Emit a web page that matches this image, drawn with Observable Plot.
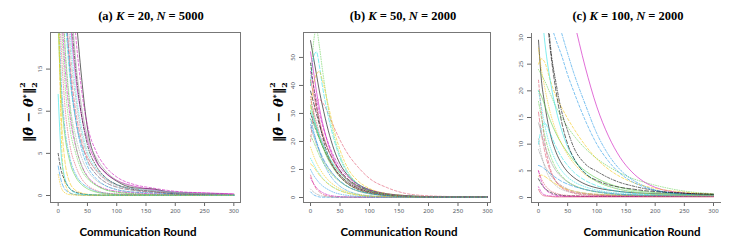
<!DOCTYPE html>
<html>
<head>
<meta charset="utf-8">
<script src="https://cdn.jsdelivr.net/npm/d3@7"></script>
<script src="https://cdn.jsdelivr.net/npm/@observablehq/plot@0.6"></script>
<style>
  html, body { margin: 0; padding: 0; background: #fff; }
  #root { position: relative; width: 747px; height: 241px; overflow: hidden; background: #fff; }
  .lbl { position: absolute; transform: translate(-50%, -50%); white-space: nowrap; color: #000; }
  .title { font-family: "Liberation Serif", serif; font-weight: bold; font-size: 12.5px; }
  .title i { font-style: italic; }
  .xlab { font-family: "Lato", sans-serif; font-weight: bold; font-size: 11.5px; }
  .ylab { font-family: "DejaVu Serif", serif; font-weight: bold; font-size: 13px; transform: translate(-50%, -50%) rotate(-90deg); }
  .ylab i { font-style: italic; }
  .panel { position: absolute; }
</style>
</head>
<body>
<div id="root"></div>
<script>
// ---------------- data ----------------
const titles = ["(a) ", "(b) ", "(c) "];
const kValues = [20, 50, 100];
const nValues = [5000, 2000, 2000];
const xLabel = "Communication Round";
const xTicks = [0, 50, 100, 150, 200, 250, 300];
const yTicksA = [0, 5, 10, 15];
const yTicksB = [0, 10, 20, 30, 40, 50];
const yTicksC = [0, 5, 10, 15, 20, 25, 30];

const palette = ["#000000", "#DF536B", "#61D04F", "#2297E6", "#28E2E5", "#CD0BBC", "#F5C710", "#9E9E9E"];

// panel (a): K = 20, N = 5000
const roundsA = [0, 5, 10, 20, 30, 40, 50, 65, 80, 100, 130, 160, 200, 250, 300];
const seriesA = [
  [90, 70, 55, 33, 22, 14, 8, 4.2, 2.8, 1.7, 0.9, 0.8, 0.3, 0.2, 0.1],
  [60, 40, 28, 15, 9, 6, 4.5, 3, 2, 1.3, 0.8, 0.5, 0.2, 0.1, 0.05],
  [35, 22, 15, 8, 5, 3, 2, 1.2, 0.7, 0.4, 0.2, 0.1, 0.05, 0.03, 0.02],
  [25, 14, 9, 4.5, 2.5, 1.5, 1, 0.5, 0.3, 0.15, 0.1, 0.05, 0.03, 0.02, 0.02],
  [45, 32, 24, 14, 9, 6, 4, 2.5, 1.6, 1, 0.6, 0.4, 0.3, 0.2, 0.1],
  [70, 50, 38, 22, 14, 9.5, 6.5, 4, 2.7, 1.8, 1.1, 0.7, 0.4, 0.3, 0.2],
  [30, 8, 2, 0.3, 0.1, 0.05, 0.03, 0.02, 0.02, 0.01, 0.01, 0.01, 0.01, 0.01, 0.01],
  [40, 28, 20, 11, 7, 4.5, 3, 1.8, 1.2, 0.7, 0.4, 0.3, 0.2, 0.1, 0.1],
  [80, 55, 40, 24, 15, 9.5, 6, 3.5, 2.2, 1.3, 0.7, 0.5, 0.2, 0.1, 0.1],
  [50, 35, 26, 16, 10, 6.5, 4.2, 2.5, 1.6, 1, 0.6, 0.4, 0.3, 0.2, 0.1],
  [20, 12, 8, 4, 2.2, 1.3, 0.8, 0.4, 0.2, 0.1, 0.05, 0.03, 0.02, 0.02, 0.02],
  [55, 38, 27, 15, 9, 5.5, 3.5, 2, 1.2, 0.7, 0.4, 0.3, 0.2, 0.1, 0.1],
  [65, 46, 34, 20, 12.5, 8, 5.2, 3.2, 2.1, 1.3, 0.8, 0.6, 0.4, 0.2, 0.1],
  [35, 24, 17, 9.5, 5.8, 3.6, 2.3, 1.3, 0.8, 0.5, 0.3, 0.2, 0.1, 0.1, 0.05],
  [22, 10, 5, 1.5, 0.6, 0.3, 0.15, 0.08, 0.05, 0.03, 0.02, 0.02, 0.01, 0.01, 0.01],
  [75, 55, 42, 26, 16, 10.5, 7, 4.5, 3, 1.8, 1, 0.6, 0.4, 0.2, 0.1],
  [5, 3, 2, 0.8, 0.4, 0.2, 0.1, 0.05, 0.03, 0.02, 0.02, 0.01, 0.01, 0.01, 0.01],
  [28, 18, 12, 6, 3.5, 2, 1.2, 0.6, 0.3, 0.2, 0.1, 0.05, 0.03, 0.02, 0.02],
  [48, 30, 20, 10.5, 6, 3.5, 2.2, 1.2, 0.7, 0.4, 0.2, 0.1, 0.1, 0.05, 0.03],
  [3.5, 1.8, 0.9, 0.3, 0.1, 0.05, 0.03, 0.02, 0.02, 0.01, 0.01, 0.01, 0.01, 0.01, 0.01],
  [12, 5, 2.5, 0.8, 0.3, 0.15, 0.1, 0.05, 0.03, 0.02, 0.02, 0.01, 0.01, 0.01, 0.01],
  [85, 62, 47, 29, 19, 12.5, 8.3, 5.2, 3.5, 2.2, 1.3, 0.9, 0.5, 0.3, 0.15],
  [2.5, 1, 0.4, 0.1, 0.05, 0.03, 0.02, 0.01, 0.01, 0.01, 0.01, 0.01, 0.01, 0.01, 0.01],
  [60, 42, 31, 18, 11.5, 7.3, 4.8, 2.9, 1.9, 1.2, 0.7, 0.5, 0.3, 0.2, 0.1]
];

// panel (b): K = 50, N = 2000
const roundsB = [0, 5, 10, 15, 20, 30, 40, 50, 65, 80, 100, 130, 160, 200, 250, 300];
const seriesB = [
  [56, 50, 44, 38, 33, 24, 17, 12, 7.5, 4.8, 2.8, 1.3, 0.7, 0.3, 0.2, 0.1],
  [20, 30, 34, 35, 34, 30, 25, 20.5, 15, 11, 6.8, 3.5, 1.5, 0.6, 0.3, 0.2],
  [40, 55, 60, 54, 46, 32, 22, 15, 8.5, 5, 2.6, 1.2, 0.6, 0.3, 0.2, 0.1],
  [28, 24, 20, 16.5, 13.5, 9, 6, 4, 2.2, 1.2, 0.6, 0.3, 0.2, 0.1, 0.1, 0.1],
  [40, 50, 52, 47, 40, 29, 20.5, 14, 8, 4.8, 2.5, 1.1, 0.5, 0.3, 0.1, 0.1],
  [52, 45, 38, 32, 27, 19, 13.5, 9.5, 5.8, 3.6, 2, 0.9, 0.4, 0.2, 0.1, 0.1],
  [30, 40, 44, 45, 42, 33, 24, 17, 9.8, 6, 3.2, 1.4, 0.7, 0.3, 0.2, 0.1],
  [35, 30, 26, 22, 19, 14, 10.5, 7.8, 5, 3.2, 1.8, 0.9, 0.5, 0.2, 0.1, 0.1],
  [30, 27, 24, 21, 18.5, 14, 10.5, 8, 5.2, 3.4, 2, 1, 0.5, 0.2, 0.1, 0.1],
  [8, 5, 3, 2, 1.2, 0.5, 0.2, 0.1, 0.1, 0.1, 0.1, 0.1, 0.1, 0.1, 0.1, 0.1],
  [33, 29, 25, 21.5, 18.5, 13.5, 10, 7.3, 4.6, 3, 1.7, 0.8, 0.4, 0.2, 0.1, 0.1],
  [2, 1, 0.5, 0.2, 0.1, 0.1, 0.1, 0.1, 0.1, 0.1, 0.1, 0.1, 0.1, 0.1, 0.1, 0.1],
  [14, 12, 10, 8.5, 7, 5, 3.5, 2.5, 1.5, 0.9, 0.5, 0.2, 0.1, 0.1, 0.1, 0.1],
  [7, 5, 3.5, 2.5, 1.8, 0.9, 0.5, 0.3, 0.2, 0.1, 0.1, 0.1, 0.1, 0.1, 0.1, 0.1],
  [12, 11, 9.5, 8, 6.8, 4.8, 3.4, 2.4, 1.4, 0.8, 0.4, 0.2, 0.1, 0.1, 0.1, 0.1],
  [25, 22, 19, 16.5, 14, 10.5, 7.8, 5.8, 3.6, 2.3, 1.3, 0.6, 0.3, 0.2, 0.1, 0.1],
  [48, 40, 33, 27, 22, 15, 10.5, 7.5, 4.6, 2.9, 1.6, 0.7, 0.3, 0.2, 0.1, 0.1],
  [36, 31, 27, 23, 20, 14.5, 10.5, 7.6, 4.7, 3, 1.7, 0.8, 0.4, 0.2, 0.1, 0.1],
  [22, 20, 17.5, 15, 13, 9.8, 7.4, 5.6, 3.6, 2.4, 1.4, 0.7, 0.3, 0.2, 0.1, 0.1],
  [26, 23, 20, 17, 14.5, 10.8, 8, 5.9, 3.7, 2.4, 1.4, 0.7, 0.3, 0.2, 0.1, 0.1],
  [31, 28, 25, 22, 19.5, 15, 11.5, 8.8, 6, 4, 2.4, 1.2, 0.6, 0.3, 0.1, 0.1],
  [45, 40, 35, 30, 26, 19.5, 14.5, 10.8, 7, 4.6, 2.7, 1.3, 0.6, 0.3, 0.1, 0.1],
  [18, 15, 12.5, 10.5, 8.8, 6.2, 4.4, 3.1, 1.8, 1.1, 0.6, 0.3, 0.1, 0.1, 0.1, 0.1],
  [3, 2, 1.3, 0.8, 0.5, 0.2, 0.1, 0.1, 0.1, 0.1, 0.1, 0.1, 0.1, 0.1, 0.1, 0.1],
  [38, 34, 30, 26, 22.5, 17, 12.8, 9.6, 6.3, 4.2, 2.4, 1.1, 0.5, 0.2, 0.1, 0.1],
  [42, 37, 32, 27.5, 23.5, 17, 12.5, 9.2, 6, 4, 2.3, 1.1, 0.5, 0.2, 0.1, 0.1],
  [28, 26, 23.5, 21, 18.5, 14.5, 11.2, 8.6, 5.8, 3.9, 2.3, 1.1, 0.5, 0.2, 0.1, 0.1],
  [10, 8, 6.5, 5.2, 4.2, 2.8, 1.8, 1.2, 0.7, 0.4, 0.2, 0.1, 0.1, 0.1, 0.1, 0.1]
];

// panel (c): K = 100, N = 2000
const roundsC = [0, 5, 10, 20, 30, 40, 50, 60, 80, 100, 120, 140, 160, 180, 200, 250, 300];
const seriesC = [
  [29.5, 22, 18, 12, 8.5, 6.3, 4.8, 3.8, 2.5, 1.8, 1.4, 1.1, 0.9, 0.8, 0.7, 0.6, 0.5],
  [22, 16, 11, 5.5, 3, 1.8, 1.2, 0.8, 0.5, 0.4, 0.3, 0.3, 0.3, 0.3, 0.3, 0.3, 0.3],
  [24, 23, 22, 19.5, 17, 15, 13.2, 11.7, 9.2, 7.3, 5.8, 4.6, 3.6, 2.9, 2.3, 1.2, 0.7],
  [60, 50, 44, 38, 34.5, 30.7, 27, 23.5, 17.5, 12, 8, 5.2, 3.4, 2.2, 1.4, 0.6, 0.4],
  [10, 13, 14, 12, 9.5, 7.5, 6, 4.8, 3.2, 2.2, 1.5, 1.1, 0.8, 0.6, 0.5, 0.4, 0.3],
  [100, 85, 72, 58, 49, 43, 38, 33.5, 24.5, 17, 11.5, 7.5, 4.8, 3, 1.9, 0.8, 0.4],
  [25, 26, 25.5, 22, 19, 16.8, 14.8, 13, 9.8, 7.2, 5.3, 3.9, 2.9, 2.2, 1.7, 1, 0.6],
  [11, 8, 6, 3.5, 2.2, 1.5, 1.1, 0.9, 0.6, 0.5, 0.4, 0.4, 0.3, 0.3, 0.3, 0.3, 0.3],
  [70, 55, 45, 29, 21.5, 16, 12.5, 9.5, 6.3, 4.9, 3.7, 2.8, 2.2, 1.7, 1.3, 0.8, 0.6],
  [16, 12, 9, 5, 3, 2, 1.4, 1, 0.7, 0.5, 0.4, 0.3, 0.3, 0.3, 0.3, 0.3, 0.3],
  [20, 19, 17.5, 14.5, 12, 10, 8.4, 7, 5, 3.6, 2.6, 1.9, 1.4, 1.1, 0.9, 0.6, 0.5],
  [50, 42, 37, 33, 29.5, 26.5, 23, 20, 14.5, 10, 6.8, 4.5, 3, 2, 1.3, 0.6, 0.4],
  [20, 17, 14, 9.5, 6.8, 5, 3.8, 3, 2, 1.4, 1, 0.8, 0.6, 0.5, 0.4, 0.3, 0.3],
  [2, 1, 0.5, 0.3, 0.2, 0.2, 0.2, 0.2, 0.2, 0.2, 0.2, 0.2, 0.2, 0.2, 0.2, 0.2, 0.2],
  [4, 4.2, 4, 3.2, 2.5, 1.9, 1.5, 1.2, 0.8, 0.6, 0.5, 0.4, 0.4, 0.3, 0.3, 0.3, 0.3],
  [14, 12, 10, 7, 5, 3.8, 2.9, 2.3, 1.5, 1.1, 0.8, 0.6, 0.5, 0.4, 0.4, 0.3, 0.3],
  [3.5, 2.5, 1.8, 1, 0.6, 0.4, 0.3, 0.3, 0.2, 0.2, 0.2, 0.2, 0.2, 0.2, 0.2, 0.2, 0.2],
  [5, 3.5, 2.5, 1.3, 0.8, 0.5, 0.4, 0.3, 0.3, 0.3, 0.3, 0.3, 0.3, 0.3, 0.3, 0.3, 0.3],
  [18, 15, 12, 8, 5.5, 4, 3, 2.3, 1.5, 1, 0.7, 0.5, 0.4, 0.4, 0.3, 0.3, 0.3],
  [6, 5.8, 5.4, 4.5, 3.7, 3, 2.5, 2.1, 1.5, 1.1, 0.8, 0.6, 0.5, 0.4, 0.4, 0.3, 0.3],
  [45, 36, 30, 22, 16.5, 12.5, 9.5, 7.4, 4.6, 3, 2.1, 1.5, 1.1, 0.8, 0.6, 0.4, 0.3],
  [5, 3, 1.8, 0.8, 0.4, 0.3, 0.2, 0.2, 0.2, 0.2, 0.2, 0.2, 0.2, 0.2, 0.2, 0.2, 0.2],
  [28, 24, 21, 16, 12.5, 10, 8, 6.5, 4.3, 3, 2.1, 1.5, 1.1, 0.8, 0.6, 0.4, 0.3],
  [9, 7.5, 6.2, 4.3, 3, 2.2, 1.6, 1.2, 0.8, 0.6, 0.5, 0.4, 0.4, 0.3, 0.3, 0.3, 0.3],
  [60, 48, 40, 28, 20, 14, 10, 7.5, 4.5, 3.2, 2.4, 1.9, 1.6, 1.3, 1.1, 0.8, 0.6],
  [1.5, 0.6, 0.3, 0.2, 0.1, 0.1, 0.1, 0.1, 0.1, 0.1, 0.1, 0.1, 0.1, 0.1, 0.1, 0.1, 0.1]
];

// ---------------- styles (R matplot-like) ----------------
const dashes = [null, "2.5,2", "0.8,1.6", "0.8,1.6,2.5,1.6", "4,2"];

const root = document.getElementById("root");

function addLabel(cls, html, x, y) {
  const d = document.createElement("div");
  d.className = "lbl " + cls;
  d.innerHTML = html;
  d.style.left = x + "px";
  d.style.top = y + "px";
  root.appendChild(d);
  return d;
}

function panel(cfg) {
  const data = cfg.series.map((vals) => vals.map((v, j) => ({round: cfg.rounds[j], value: v})));
  const lines = data.map((d, i) => Plot.line(d, {
    x: "round", y: "value",
    stroke: palette[i % palette.length],
    strokeWidth: 0.8,
    strokeOpacity: 0.75,
    strokeDasharray: dashes[i % dashes.length],
    curve: "monotone-x",
    clip: true
  }));
  const marks = [
    ...lines,
    Plot.axisX(xTicks, {tickSize: 4, tickPadding: 2, fontSize: 6, fill: "#555a66", stroke: "#666", label: null}),
    Plot.axisY(cfg.yTicks, {tickSize: 4, tickFormat: () => "", stroke: "#666", label: null}),
    Plot.text(cfg.yTicks, {y: (d) => d, text: (d) => String(d), frameAnchor: "left", dx: -10, rotate: -90,
      textAnchor: "middle", lineAnchor: "middle", fontSize: 6, fill: "#555a66"})
  ];
  if (cfg.box) {
    marks.push(Plot.frame({stroke: "#777", strokeWidth: 1}));
  } else {
    marks.push(Plot.ruleX([cfg.xDomain[0]], {stroke: "#777", strokeWidth: 1}));
    marks.push(Plot.ruleY([cfg.yDomain[0]], {stroke: "#777", strokeWidth: 1}));
  }
  const svg = Plot.plot({
    width: cfg.width, height: cfg.height,
    marginLeft: cfg.mL, marginTop: cfg.mT, marginRight: cfg.mR, marginBottom: cfg.mB,
    x: {domain: cfg.xDomain, axis: null},
    y: {domain: cfg.yDomain, axis: null},
    style: {background: "transparent", overflow: "visible"},
    marks
  });
  svg.classList.add("panel");
  svg.style.left = cfg.left + "px";
  svg.style.top = cfg.top + "px";
  svg.style.position = "absolute";
  root.appendChild(svg);
}

panel({rounds: roundsA, series: seriesA, yTicks: yTicksA, box: true,
  xDomain: [-13.1, 311.4], yDomain: [-0.83, 19.34],
  left: 20, top: 25, width: 228, height: 195, mL: 30, mT: 7, mR: 8, mB: 18});
panel({rounds: roundsB, series: seriesB, yTicks: yTicksB, box: true,
  xDomain: [-11.9, 305.1], yDomain: [-1.79, 58.9],
  left: 273, top: 25, width: 225, height: 195, mL: 30, mT: 7, mR: 8, mB: 18});
panel({rounds: roundsC, series: seriesC, yTicks: yTicksC, box: false,
  xDomain: [-12, 313.7], yDomain: [-0.94, 30.75],
  left: 501, top: 26, width: 228, height: 194, mL: 30, mT: 7, mR: 8, mB: 18});

// titles
const titleX = [151, 403, 628];
const xLabX = [138, 399, 642];
titles.forEach((t, i) => {
  addLabel("title", `${t}<i>K</i> = ${kValues[i]}, <i>N</i> = ${nValues[i]}`, titleX[i], 16);
  addLabel("xlab", xLabel, xLabX[i], 231);
});
const yLabHtml = `‖<i>θ̄</i> − <i>θ</i><sup style="font-size:8px">*</sup>‖<span style="display:inline-block;position:relative;width:6px;height:10px;vertical-align:middle"><span style="position:absolute;left:0;top:-8px;font-size:8px">2</span><span style="position:absolute;left:0;top:4px;font-size:8px">2</span></span>`;
addLabel("ylab", yLabHtml, 28, 112);
addLabel("ylab", yLabHtml, 278, 112);
</script>
</body>
</html>
